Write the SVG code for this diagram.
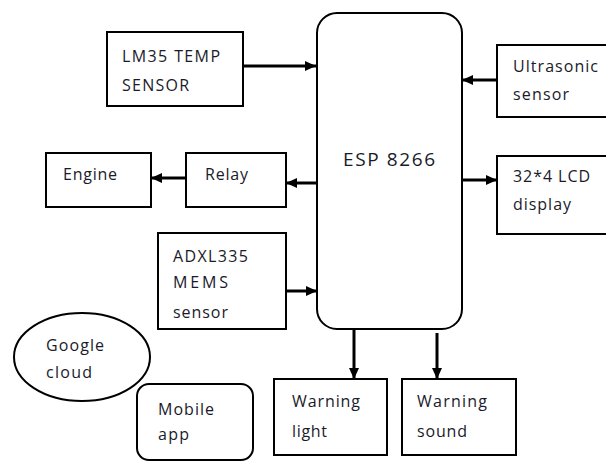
<svg xmlns="http://www.w3.org/2000/svg" width="606" height="461" viewBox="0 0 606 461">
<style>
.box{fill:#fff;stroke:#000;stroke-width:2}
.t{font-family:"Open Sans","Liberation Sans",Arial,sans-serif;font-size:16px;fill:#1a1a2a}
.big{font-size:19px}
.c{stroke:#000;stroke-width:3;fill:none}
</style>
<defs>
<marker id="ah" markerUnits="userSpaceOnUse" markerWidth="12" markerHeight="12" viewBox="0 0 12 12" refX="11" refY="6" orient="auto">
<path d="M0,1 L11,6 L0,11 Z" fill="#000"/>
</marker>
</defs>
<rect width="606" height="461" fill="#fff"/>
<g id="esp">
<rect class="box" x="317" y="13" width="145" height="316" rx="20"/>
<text class="t big" x="343" y="166" textLength="92">ESP 8266</text>
</g>
<g id="lm35">
<rect class="box" x="107" y="32" width="136" height="74"/>
<text class="t" x="122" y="62" textLength="98">LM35 TEMP</text>
<text class="t" x="122" y="91" textLength="67">SENSOR</text>
</g>
<g id="engine">
<rect class="box" x="46" y="153" width="105" height="54"/>
<text class="t" x="63" y="180" textLength="54">Engine</text>
</g>
<g id="relay">
<rect class="box" x="186" y="153" width="100" height="54"/>
<text class="t" x="205" y="180" textLength="43">Relay</text>
</g>
<g id="ultrasonic">
<rect class="box" x="497" y="45" width="120" height="72"/>
<text class="t" x="513" y="72" textLength="85">Ultrasonic</text>
<text class="t" x="513" y="100" textLength="56">sensor</text>
</g>
<g id="lcd">
<rect class="box" x="497" y="156" width="120" height="78"/>
<text class="t" x="513" y="182" textLength="77">32*4 LCD</text>
<text class="t" x="513" y="210" textLength="58">display</text>
</g>
<g id="adxl">
<rect class="box" x="158" y="233" width="128" height="96"/>
<text class="t" x="173" y="262" textLength="75">ADXL335</text>
<text class="t" x="173" y="288" textLength="55">MEMS</text>
<text class="t" x="173" y="318" textLength="55">sensor</text>
</g>
<g id="google">
<ellipse class="box" cx="82" cy="357" rx="68" ry="44" stroke-width="1.5"/>
<text class="t" x="46" y="351" textLength="58">Google</text>
<text class="t" x="46" y="378" textLength="46">cloud</text>
</g>
<g id="mobile">
<rect class="box" x="137" y="384" width="116" height="76" rx="12"/>
<text class="t" x="158" y="415" textLength="56">Mobile</text>
<text class="t" x="158" y="440" textLength="31">app</text>
</g>
<g id="wlight">
<rect class="box" x="274" y="379" width="113" height="76"/>
<text class="t" x="292" y="407" textLength="68">Warning</text>
<text class="t" x="292" y="437" textLength="35">light</text>
</g>
<g id="wsound">
<rect class="box" x="402" y="379" width="114" height="76"/>
<text class="t" x="417" y="407" textLength="70">Warning</text>
<text class="t" x="417" y="437" textLength="50">sound</text>
</g>
<g id="connectors">
<line class="c" x1="243" y1="66" x2="316" y2="66" marker-end="url(#ah)"/>
<line class="c" x1="317" y1="183" x2="286" y2="183" marker-end="url(#ah)"/>
<line class="c" x1="186" y1="178" x2="151" y2="178" marker-end="url(#ah)"/>
<line class="c" x1="497" y1="80" x2="462" y2="80" marker-end="url(#ah)"/>
<line class="c" x1="462" y1="180" x2="497" y2="180" marker-end="url(#ah)"/>
<line class="c" x1="286" y1="291" x2="317" y2="291" marker-end="url(#ah)"/>
<line class="c" x1="354" y1="329" x2="354" y2="379" marker-end="url(#ah)"/>
<line class="c" x1="437" y1="333" x2="437" y2="379" marker-end="url(#ah)"/>
</g>
</svg>
